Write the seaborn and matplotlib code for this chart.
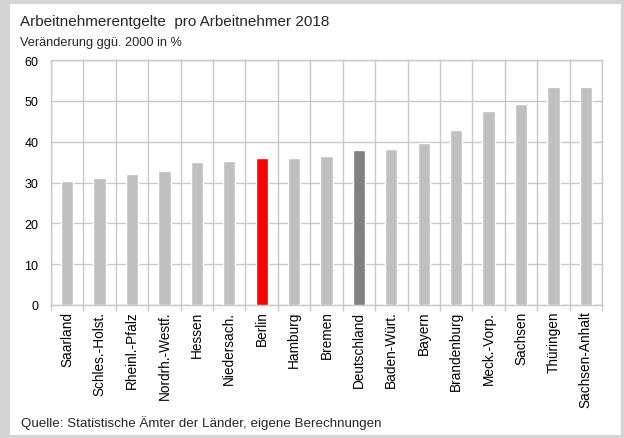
import matplotlib
matplotlib.use('AGG')
import matplotlib.pyplot as plt
from matplotlib.patches import Rectangle
import seaborn as sns
import pandas as pd

sns.set_theme(style="white")
plt.rcParams['font.family'] = ['Liberation Sans', 'DejaVu Sans']

# data
laender = ['Saarland', 'Schles.-Holst.', 'Rheinl.-Pfalz', 'Nordrh.-Westf.', 'Hessen',
           'Niedersach.', 'Berlin', 'Hamburg', 'Bremen', 'Deutschland', 'Baden-Würt.',
           'Bayern', 'Brandenburg', 'Meck.-Vorp.', 'Sachsen', 'Thüringen', 'Sachsen-Anhalt']
veraenderung = [30.3, 31.1, 32.0, 32.8, 35.0, 35.2, 36.0, 36.1, 36.6,
                37.9, 38.1, 39.6, 42.9, 47.6, 49.2, 53.3, 53.5]
y_ticks = [0, 10, 20, 30, 40, 50, 60]

farben = {l: '#c0c0c0' for l in laender}
farben['Berlin'] = '#ff0000'
farben['Deutschland'] = '#808080'

df = pd.DataFrame({'land': laender, 'wert': veraenderung})

fig = plt.figure(figsize=(6.24, 4.39), dpi=100)
fig.patch.set_facecolor('#d4d4d4')
# white panel inside the gray frame
fig.patches.append(Rectangle((10 / 624, 3 / 439), 611 / 624, 431 / 439,
                             transform=fig.transFigure, facecolor='white',
                             edgecolor='none', zorder=-5))

ax = fig.add_axes([51 / 624, 1 - 306 / 439, 551 / 624, 245 / 439])
ax.set_zorder(2)
sns.barplot(data=df, x='land', y='wert', hue='land', palette=farben,
            legend=False, width=0.38, saturation=1, ax=ax, zorder=3)

ax.set_ylim(0, 60)
ax.set_xlim(-0.5, len(laender) - 0.5)
ax.set_yticks(y_ticks)
ax.set_xlabel('')
ax.set_ylabel('')

# grid lines: horizontal at the ticks, vertical between categories
ax.set_xticks([i + 0.5 for i in range(-1, len(laender))], minor=True)
ax.grid(True, which='major', axis='y', color='#c8c8c8', lw=1, zorder=0)
ax.grid(True, which='minor', axis='x', color='#c8c8c8', lw=1, zorder=0)
ax.set_axisbelow(True)

for s in ax.spines.values():
    s.set_color('#c8c8c8')
    s.set_linewidth(1)

ax.tick_params(axis='x', which='major', length=0, labelsize=9.8, labelrotation=90,
               pad=4, colors='black')
ax.tick_params(axis='x', which='minor', length=4, color='#c8c8c8', bottom=True)
ax.tick_params(axis='y', length=0, labelsize=9, pad=9, colors='black')

fig.text(20 / 624, 1 - 22 / 439, 'Arbeitnehmerentgelte  pro Arbeitnehmer 2018',
         fontsize=11, va='center', ha='left')
fig.text(20 / 624, 1 - 43 / 439, 'Veränderung ggü. 2000 in %',
         fontsize=9.2, va='center', ha='left')
fig.text(21 / 624, 1 - 423 / 439, 'Quelle: Statistische Ämter der Länder, eigene Berechnungen',
         fontsize=9.6, va='center', ha='left')

fig.savefig('out.png', dpi=100, facecolor=fig.get_facecolor())
